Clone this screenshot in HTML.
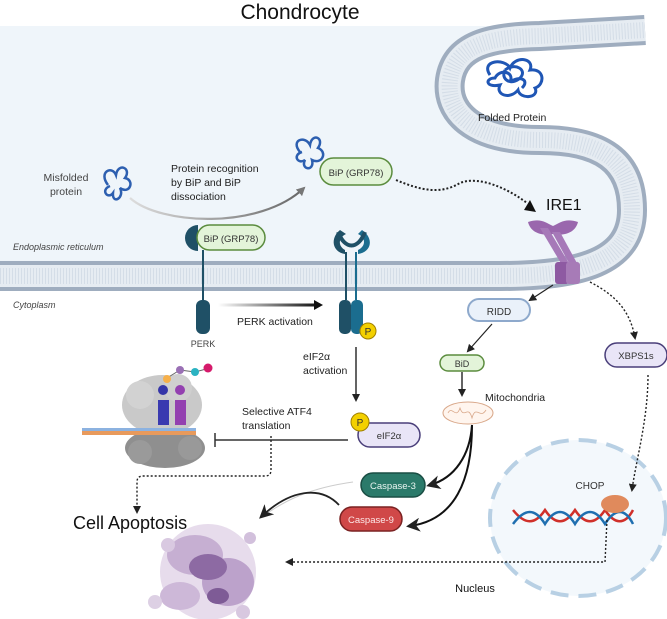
<!DOCTYPE html>
<html><head><meta charset="utf-8"><style>
html,body{margin:0;padding:0;background:#fff}
svg{display:block}
text{font-family:"Liberation Sans",sans-serif}
</style></head><body>
<svg width="667" height="619" viewBox="0 0 667 619" xmlns="http://www.w3.org/2000/svg">
<defs>
<marker id="ah" markerWidth="8" markerHeight="8" refX="6" refY="4" orient="auto" markerUnits="userSpaceOnUse"><path d="M0,0 L8,4 L0,8 Z" fill="#222"/></marker>
<marker id="ahb" markerWidth="14" markerHeight="14" refX="10" refY="7" orient="auto" markerUnits="userSpaceOnUse"><path d="M0,0 L14,7 L0,14 L4,7 Z" fill="#222"/></marker>
<marker id="ahg" markerWidth="9" markerHeight="9" refX="7" refY="4.5" orient="auto" markerUnits="userSpaceOnUse"><path d="M0,0 L9,4.5 L0,9 Z" fill="#777"/></marker>
<linearGradient id="gr" gradientUnits="userSpaceOnUse" x1="218" y1="0" x2="318" y2="0"><stop offset="0" stop-color="#fff"/><stop offset="1" stop-color="#111"/></linearGradient>
<linearGradient id="gg" x1="0" x2="1"><stop offset="0" stop-color="#ddd"/><stop offset="1" stop-color="#666"/></linearGradient>
</defs>
<text x="300" y="19" text-anchor="middle" font-size="21" fill="#111">Chondrocyte</text>
<path d="M0,26 L640,26 L640,40 C560,40 470,34 460,60 C445,100 470,140 540,140 C610,140 632,170 632,220 C632,262 600,277 540,277 L0,277 Z" fill="#eff5fa"/>
<g fill="none">
<path d="M0,276 L500,276 C580,276 632,262 632,210 C632,160 600,140 540,140 C470,140 446,110 450,80 C455,45 490,37 540,36 L645,30" stroke="#9fadbf" stroke-width="30"/>
<path d="M0,276 L500,276 C580,276 632,262 632,210 C632,160 600,140 540,140 C470,140 446,110 450,80 C455,45 490,37 540,36 L645,30" stroke="#e6ecf2" stroke-width="22"/>
<path d="M0,276 L500,276 C580,276 632,262 632,210 C632,160 600,140 540,140 C470,140 446,110 450,80 C455,45 490,37 540,36 L645,30" stroke="#d4dde7" stroke-width="16" stroke-dasharray="1 2"/>
</g>
<g fill="none" stroke="#1f56b5" stroke-width="3">
<path d="M490,75 C480,60 505,58 510,68 C515,55 535,58 530,70 C545,68 545,85 535,88 C540,98 520,100 518,90 C510,100 495,95 500,85 C485,88 485,78 495,78 C500,68 515,72 510,82 C520,75 530,80 522,88"/>
<path d="M505,70 C515,62 528,70 520,78 C512,86 500,80 505,70"/>
</g>
<text x="478" y="121" font-size="10.5" fill="#222">Folded Protein</text>
<text x="66" y="181" text-anchor="middle" font-size="10.5" fill="#444">Misfolded</text>
<text x="66" y="195" text-anchor="middle" font-size="10.5" fill="#444">protein</text>
<path d="M108,185 C98,172 112,165 116,175 C118,162 132,168 125,178 C135,180 130,195 120,188 C125,198 112,205 113,193 C108,200 100,190 110,186" fill="none" stroke="#2d5fb0" stroke-width="2.5"/>
<text x="171" y="172" font-size="10.5" fill="#222">Protein recognition</text>
<text x="171" y="186" font-size="10.5" fill="#222">by BiP and BiP</text>
<text x="171" y="200" font-size="10.5" fill="#222">dissociation</text>
<path d="M130,198 C160,225 260,230 304,188" fill="none" stroke="url(#gg)" stroke-width="2.2" marker-end="url(#ahg)"/>
<path d="M300,152 C290,140 305,135 310,145 C312,132 325,138 318,148 C328,152 322,165 312,160 C315,172 300,170 305,160 C298,165 292,155 302,152" fill="none" stroke="#2d5fb0" stroke-width="2.5"/>
<rect x="320" y="158" width="72" height="27" rx="13.5" fill="#e3f4d9" stroke="#5b8c3e" stroke-width="1.5"/>
<text x="356" y="176" text-anchor="middle" font-size="9.5" fill="#333">BiP (GRP78)</text>
<path d="M396,180 C420,190 440,195 460,183 C480,175 510,190 527,203" fill="none" stroke="#222" stroke-width="2" stroke-dasharray="2 2"/>
<path d="M524,210 L536,212 L530,200 Z" fill="#111"/>
<text x="546" y="210" font-size="16" fill="#111">IRE1</text>
<g fill="#9a67ad">
<path d="M528,222 C540,218 545,222 553,226 C561,222 566,218 578,222 C575,234 562,236 553,234 C544,236 531,234 528,222 Z"/>
<path d="M540,228 L548,228 L570,265 L562,265 Z" fill="#a679b8"/>
<path d="M552,232 L560,232 L578,265 L570,265 Z" fill="#a679b8"/>
<rect x="555" y="262" width="14" height="22" rx="3" fill="#8e5aa2"/>
<rect x="566" y="262" width="14" height="22" rx="3" fill="#a77bb7"/>
</g>
<path d="M198,225 A13,13 0 0,0 198,251 Z" fill="#1f5066"/>
<rect x="197" y="225" width="68" height="25" rx="12.5" fill="#e3f4d9" stroke="#5b8c3e" stroke-width="1.5"/>
<text x="231" y="242" text-anchor="middle" font-size="9.5" fill="#333">BiP (GRP78)</text>
<text x="13" y="250" font-size="9" font-style="italic" fill="#444">Endoplasmic reticulum</text>
<text x="13" y="308" font-size="9" font-style="italic" fill="#444">Cytoplasm</text>
<line x1="203" y1="250" x2="203" y2="300" stroke="#1f5066" stroke-width="2"/>
<rect x="196" y="300" width="14" height="34" rx="6" fill="#1f5066"/>
<text x="203" y="347" text-anchor="middle" font-size="9" fill="#444">PERK</text>
<rect x="218" y="303.5" width="98" height="3" fill="url(#gr)"/>
<path d="M314,300 L323,305 L314,310 Z" fill="#111"/>
<text x="237" y="325" font-size="10.5" fill="#222">PERK activation</text>
<path d="M340,230 C330,238 332,252 345,254 L345,250 C338,246 338,238 346,234 Z" fill="#1f5066"/>
<path d="M362,230 C374,238 372,252 358,254 L358,250 C366,246 366,238 358,234 Z" fill="#1b6d8f"/>
<path d="M338,232 C345,250 358,250 365,232" fill="none" stroke="#1f5066" stroke-width="4"/>
<line x1="346" y1="252" x2="346" y2="300" stroke="#1f5066" stroke-width="2"/>
<line x1="356" y1="252" x2="356" y2="300" stroke="#1b6d8f" stroke-width="2"/>
<rect x="339" y="300" width="12" height="34" rx="5" fill="#1f5066"/>
<rect x="351" y="300" width="12" height="34" rx="5" fill="#1b6d8f"/>
<circle cx="368" cy="331" r="8" fill="#f3d000" stroke="#a08000" stroke-width="1"/>
<text x="368" y="335" text-anchor="middle" font-size="10" fill="#333">P</text>
<text x="303" y="360" font-size="10.5" fill="#222">eIF2α</text>
<text x="303" y="374" font-size="10.5" fill="#222">activation</text>
<line x1="356" y1="347" x2="356" y2="400" stroke="#222" stroke-width="1.4" marker-end="url(#ah)"/>
<rect x="358" y="423" width="62" height="24" rx="12" fill="#e9e5f7" stroke="#4a3f7a" stroke-width="1.5"/>
<text x="389" y="439" text-anchor="middle" font-size="9.5" fill="#333">eIF2α</text>
<circle cx="360" cy="422" r="9" fill="#f3d000" stroke="#a08000" stroke-width="1"/>
<text x="360" y="426" text-anchor="middle" font-size="10" fill="#333">P</text>
<line x1="348" y1="440" x2="215" y2="440" stroke="#333" stroke-width="1.5"/>
<line x1="215" y1="433" x2="215" y2="447" stroke="#333" stroke-width="1.5"/>
<text x="242" y="415" font-size="10.5" fill="#222">Selective ATF4</text>
<text x="242" y="429" font-size="10.5" fill="#222">translation</text>
<path d="M271,436 L271,470 Q271,476 265,476 L143,476 Q137,476 137,482 L137,512" fill="none" stroke="#222" stroke-width="1.4" stroke-dasharray="2 2" marker-end="url(#ah)"/>
<g>
<ellipse cx="162" cy="405" rx="40" ry="30" fill="#c9c9c9"/>
<circle cx="140" cy="395" r="14" fill="#d2d2d2"/><circle cx="178" cy="388" r="14" fill="#cfcfcf"/>
<ellipse cx="165" cy="448" rx="40" ry="20" fill="#8f8f8f"/>
<circle cx="140" cy="452" r="12" fill="#9a9a9a"/><circle cx="190" cy="448" r="12" fill="#999"/>
<rect x="82" y="428" width="114" height="7" fill="#e89a5c"/>
<rect x="82" y="428" width="114" height="3" fill="#8cb2e0"/>
<rect x="158" y="400" width="11" height="25" fill="#3a3ab0"/>
<rect x="175" y="400" width="11" height="25" fill="#9340b0"/>
<circle cx="163" cy="390" r="5" fill="#3535a8"/><circle cx="180" cy="390" r="5" fill="#9340b0"/>
<path d="M167,378 L180,370 L195,372 L210,368" stroke="#666" fill="none"/>
<circle cx="167" cy="379" r="4" fill="#f6b04a"/><circle cx="180" cy="370" r="4" fill="#9a70b5"/><circle cx="195" cy="372" r="4" fill="#2bb3c2"/><circle cx="208" cy="368" r="4.5" fill="#d51a6b"/>
</g>
<g>
<circle cx="208" cy="572" r="48" fill="#e7dcec"/>
<ellipse cx="195" cy="555" rx="28" ry="20" fill="#c6afd2"/>
<ellipse cx="228" cy="582" rx="26" ry="24" fill="#bca2cb"/>
<ellipse cx="180" cy="596" rx="20" ry="14" fill="#cdb8d8"/>
<ellipse cx="208" cy="567" rx="19" ry="13" fill="#8d6aa3"/>
<ellipse cx="218" cy="596" rx="11" ry="8" fill="#7e5b96"/>
<circle cx="168" cy="545" r="7" fill="#d9c9e1"/><circle cx="250" cy="538" r="6" fill="#d2c0dc"/>
<circle cx="155" cy="602" r="7" fill="#ddd0e4"/><circle cx="243" cy="612" r="7" fill="#d8c8e0"/>
</g>
<text x="73" y="529" font-size="18" fill="#111">Cell Apoptosis</text>
<line x1="553" y1="285" x2="530" y2="300" stroke="#222" stroke-width="1.2" marker-end="url(#ah)"/>
<rect x="468" y="299" width="62" height="22" rx="11" fill="#eaf1fa" stroke="#8ea9cc" stroke-width="2"/>
<text x="499" y="315" text-anchor="middle" font-size="10" fill="#333">RIDD</text>
<line x1="492" y1="324" x2="468" y2="351" stroke="#222" stroke-width="1.2" marker-end="url(#ah)"/>
<rect x="440" y="355" width="44" height="16" rx="8" fill="#e3f4d9" stroke="#5b8c3e" stroke-width="1.5"/>
<text x="462" y="367" text-anchor="middle" font-size="9" fill="#333">BiD</text>
<line x1="462" y1="372" x2="462" y2="395" stroke="#222" stroke-width="1.4" marker-end="url(#ah)"/>
<text x="485" y="401" font-size="10.5" fill="#222">Mitochondria</text>
<ellipse cx="468" cy="413" rx="25" ry="11" fill="#fff5ee" stroke="#d9a88a" stroke-width="1"/>
<path d="M448,413 C452,405 456,420 460,408 C464,420 468,404 472,418 C476,404 480,420 486,410" fill="none" stroke="#d9a88a" stroke-width="0.8"/>
<path d="M472,425 C470,455 455,478 430,485" fill="none" stroke="#111" stroke-width="2" marker-end="url(#ahb)"/>
<path d="M472,425 C472,480 455,520 410,526" fill="none" stroke="#111" stroke-width="2" marker-end="url(#ahb)"/>
<rect x="361" y="473" width="64" height="24" rx="12" fill="#2b7a6a" stroke="#1a4e44" stroke-width="1.5"/>
<text x="393" y="489" text-anchor="middle" font-size="9.5" fill="#e9f5f1">Caspase-3</text>
<rect x="340" y="507" width="62" height="24" rx="12" fill="#d04848" stroke="#7a2222" stroke-width="1.5"/>
<text x="371" y="523" text-anchor="middle" font-size="9.5" fill="#fde9e9">Caspase-9</text>
<path d="M353,482 C310,488 285,500 262,517" fill="none" stroke="#ccc" stroke-width="1"/>
<path d="M339,505 C320,485 290,490 262,516" fill="none" stroke="#222" stroke-width="1.8" marker-end="url(#ahb)"/>
<path d="M590,282 C615,295 630,310 635,338" fill="none" stroke="#222" stroke-width="1.4" stroke-dasharray="2 2" marker-end="url(#ah)"/>
<rect x="605" y="343" width="62" height="24" rx="12" fill="#e9e5f7" stroke="#4a3f7a" stroke-width="1.5"/>
<text x="636" y="359" text-anchor="middle" font-size="9.5" fill="#333">XBPS1s</text>
<ellipse cx="578" cy="518" rx="88" ry="78" fill="#f3f8fc" stroke="#b8d0e4" stroke-width="4" stroke-dasharray="18 10"/>
<path d="M648,375 C648,420 636,460 632,490" fill="none" stroke="#222" stroke-width="1.4" stroke-dasharray="2 2" marker-end="url(#ah)"/>
<text x="590" y="489" text-anchor="middle" font-size="10" fill="#333">CHOP</text>
<path d="M513,510 C525,525 535,525 545,510 C555,525 565,525 575,510 C585,525 595,525 605,510 C615,525 625,525 633,510" fill="none" stroke="#d0302a" stroke-width="2.5"/>
<path d="M513,524 C525,508 535,508 545,524 C555,508 565,508 575,524 C585,508 595,508 605,524 C615,508 625,508 633,524" fill="none" stroke="#1f6fb0" stroke-width="2.5"/>
<ellipse cx="615" cy="504" rx="14" ry="9" fill="#e08a5c"/>
<text x="475" y="592" text-anchor="middle" font-size="11" fill="#111">Nucleus</text>
<path d="M607,520 L605,562 L287,562" fill="none" stroke="#222" stroke-width="1.4" stroke-dasharray="2 2" marker-end="url(#ah)"/>
</svg>
</body></html>
